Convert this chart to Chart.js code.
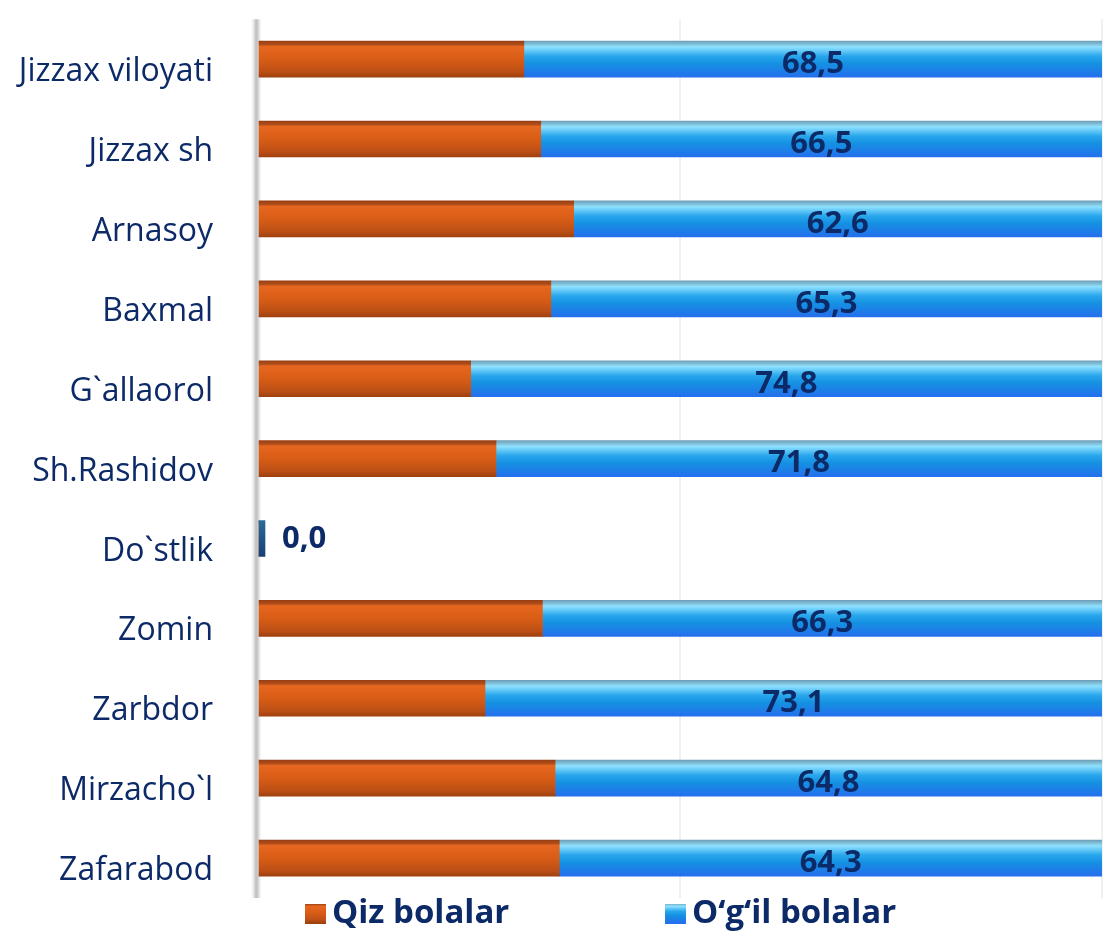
<!DOCTYPE html>
<html>
<head>
<meta charset="utf-8">
<script src="https://cdn.jsdelivr.net/npm/chart.js@4.4.1/dist/chart.umd.min.js"></script>
<style>
  html, body { margin: 0; background: #fff; }
</style>
</head>
<body>
<canvas id="chart" width="1108" height="932"></canvas>
<script>
// shares of girls / boys by district, percent
const REGIONS = [
  "Jizzax viloyati", "Jizzax sh", "Arnasoy", "Baxmal", "G`allaorol",
  "Sh.Rashidov", "Do`stlik", "Zomin", "Zarbdor", "Mirzacho`l", "Zafarabod",
];
const GIRLS = [31.5, 33.5, 37.4, 34.7, 25.2, 28.2, 0.0, 33.7, 26.9, 35.2, 35.7];
const BOYS = [68.5, 66.5, 62.6, 65.3, 74.8, 71.8, 0.0, 66.3, 73.1, 64.8, 64.3];
const SERIES_NAMES = ["Qiz bolalar", "O‘g‘il bolalar"];
const X_TICKS = [0, 50, 100];

const NAVY = "#0d2a68";
const BAR_H = 36;

const ORANGE_STOPS = [
  [0, "#9a3f12"], [0.1, "#b24e1b"], [0.15, "#e6671f"],
  [0.5, "#d95d16"], [0.85, "#bb4f16"], [1, "#9f410f"],
];
const BLUE_STOPS = [
  [0, "#6e9fb8"], [0.1, "#84c6e0"], [0.16, "#8fe1ff"],
  [0.42, "#28a6ec"], [0.62, "#1591e2"], [1, "#256fed"],
];
const ZERO_STOPS = [[0, "#2a6c9c"], [0.5, "#1d5688"], [1, "#173f78"]];

function barGradient(context, stops) {
  const chart = context.chart;
  const yScale = chart.scales.y;
  const fallback = stops[Math.floor(stops.length / 2)][1];
  if (!yScale || context.dataIndex === undefined) return fallback;
  const yc = yScale.getPixelForValue(context.dataIndex);
  if (!isFinite(yc)) return fallback;
  const g = chart.ctx.createLinearGradient(0, yc - BAR_H / 2, 0, yc + BAR_H / 2);
  stops.forEach(([o, c]) => g.addColorStop(o, c));
  return g;
}

function fmt(v) {
  return v.toFixed(1).replace(".", ",");
}

// grey 3D wall on the left of the plot
const wallPlugin = {
  id: "wall",
  beforeDatasetsDraw(chart) {
    const { ctx, chartArea } = chart;
    const x0 = chartArea.left;
    const g = ctx.createLinearGradient(x0 - 8, 0, x0 + 3, 0);
    g.addColorStop(0, "rgba(255,255,255,0)");
    g.addColorStop(0.55, "rgba(140,140,140,0.6)");
    g.addColorStop(1, "rgba(230,230,230,0.3)");
    ctx.save();
    ctx.fillStyle = g;
    ctx.fillRect(x0 - 8, chartArea.top, 11, chartArea.bottom - chartArea.top);
    ctx.restore();
  },
};

// value labels on the boys' segment
const valueLabels = {
  id: "valueLabels",
  afterDatasetsDraw(chart) {
    const { ctx } = chart;
    const meta = chart.getDatasetMeta(1);
    ctx.save();
    ctx.font = 'bold 31px "Open Sans"';
    ctx.fillStyle = NAVY;
    ctx.textBaseline = "middle";
    meta.data.forEach((bar, i) => {
      const v = BOYS[i];
      if (v > 0) {
        ctx.textAlign = "center";
        ctx.fillText(fmt(v), (bar.base + bar.x) / 2, bar.y + 5);
      } else {
        ctx.textAlign = "left";
        ctx.fillText(fmt(v), bar.x + 17, bar.y + 1);
      }
    });
    ctx.restore();
  },
};

// legend drawn by hand so it sits where the original has it
const LEGEND_X = [305, 665];
const LEGEND_Y = 913;
const legendPlugin = {
  id: "customLegend",
  afterDraw(chart) {
    const { ctx } = chart;
    const stops = [ORANGE_STOPS, BLUE_STOPS];
    ctx.save();
    ctx.font = 'bold 33px "Open Sans"';
    ctx.textBaseline = "middle";
    ctx.textAlign = "left";
    SERIES_NAMES.forEach((name, i) => {
      const x = LEGEND_X[i];
      const g = ctx.createLinearGradient(0, LEGEND_Y - 10, 0, LEGEND_Y + 10);
      stops[i].forEach(([o, c]) => g.addColorStop(o, c));
      ctx.fillStyle = g;
      ctx.fillRect(x, LEGEND_Y - 9, 21, 20);
      ctx.fillStyle = NAVY;
      ctx.fillText(name, x + 27, LEGEND_Y + 1);
    });
    ctx.restore();
  },
};

new Chart(document.getElementById("chart"), {
  type: "bar",
  data: {
    labels: REGIONS,
    datasets: [
      {
        label: SERIES_NAMES[0],
        data: GIRLS,
        backgroundColor: (c) => barGradient(c, ORANGE_STOPS),
        barThickness: BAR_H,
      },
      {
        label: SERIES_NAMES[1],
        data: BOYS,
        backgroundColor: (c) =>
          BOYS[c.dataIndex] === 0 ? barGradient(c, ZERO_STOPS) : barGradient(c, BLUE_STOPS),
        barThickness: BAR_H,
        minBarLength: 7,
      },
    ],
  },
  options: {
    indexAxis: "y",
    responsive: false,
    animation: false,
    layout: { padding: { top: 0, bottom: 34, left: 10, right: 6 } },
    plugins: {
      legend: { display: false },
      tooltip: { enabled: false },
    },
    scales: {
      x: {
        stacked: true,
        min: 0,
        max: 100,
        afterBuildTicks(scale) {
          scale.ticks = X_TICKS.map((v) => ({ value: v }));
        },
        ticks: { display: false },
        grid: { color: "#f0f0f0", lineWidth: 2, drawTicks: false },
        border: { display: false },
      },
      y: {
        stacked: true,
        afterFit(scale) {
          scale.width = 248;
        },
        ticks: {
          color: NAVY,
          font: { family: "Open Sans", size: 32 },
          padding: 0,
          labelOffset: 13,
        },
        grid: { display: false, drawTicks: true, tickLength: 45 },
        border: { display: false },
      },
    },
  },
  plugins: [wallPlugin, valueLabels, legendPlugin],
});
</script>
</body>
</html>
